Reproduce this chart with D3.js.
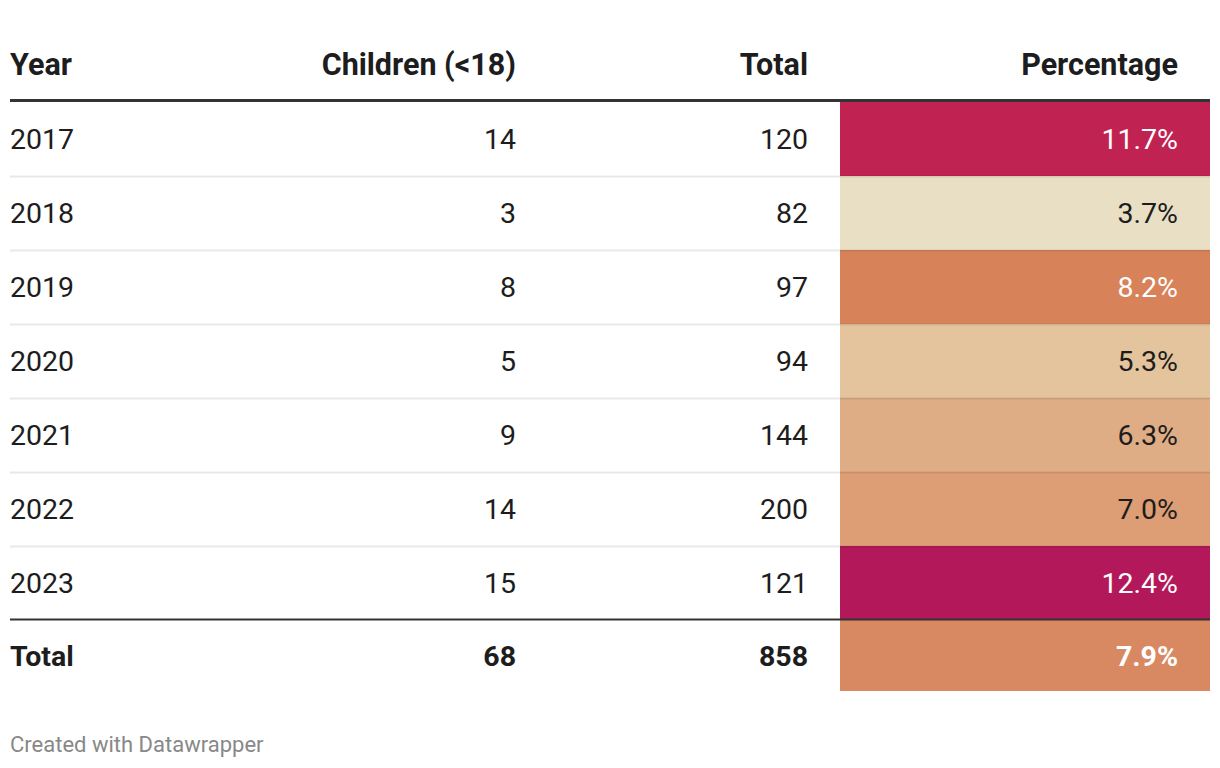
<!DOCTYPE html>
<html><head><meta charset="utf-8">
<script src="https://cdn.jsdelivr.net/npm/d3@7"></script>
<style>
html,body{margin:0;padding:0;background:#fff;}
svg{display:block;font-family:Roboto, "Noto Sans", sans-serif;}
</style></head>
<body><svg id="c" width="1220" height="768"></svg>
<script>
const headers = ["Year", "Children (<18)", "Total", "Percentage"];
const years = ["2017", "2018", "2019", "2020", "2021", "2022", "2023"];
const children = [14, 3, 8, 5, 9, 14, 15];
const totals = [120, 82, 97, 94, 144, 200, 121];
const percentages = [11.7, 3.7, 8.2, 5.3, 6.3, 7.0, 12.4];
const totalRow = ["Total", 68, 858, 7.9];
const footer = "Created with Datawrapper";

const svg = d3.select("#c");
const textCol = "#1d1d1d";
const rowH = 74;
const headerLineY = 100.5;
const firstRowTop = 102;

const color = d3.scaleLinear()
  .domain([3.7, 5.3, 8.2, 11.7, 12.4])
  .range(["#e8dfc4", "#e3c49c", "#d8825a", "#c02252", "#b3195a"]);

const rowY = d3.scaleBand().domain(d3.range(years.length + 1))
  .range([firstRowTop, firstRowTop + rowH * (years.length + 1)]).padding(0);

const colX = [10, 516, 808, 1178];
const anchors = ["start", "end", "end", "end"];
const cellX0 = 840, cellX1 = 1210;

// header
svg.selectAll("text.h").data(headers).join("text")
  .attr("x", (d,i)=>colX[i]).attr("y", 75)
  .attr("text-anchor", (d,i)=>anchors[i])
  .attr("font-size", 30.5).attr("font-weight", 700).attr("fill", textCol)
  .text(d=>d);

const rows = years.map((y,i)=>({cells:[y, children[i], totals[i], percentages[i]], bold:false}));
rows.push({cells:totalRow, bold:true});

svg.selectAll("rect.cell").data(rows).join("rect")
  .attr("x", cellX0).attr("width", cellX1-cellX0)
  .attr("y", (d,i)=>rowY(i)).attr("height", (d,i)=> i===rows.length-1 ? rowH-3 : rowY.bandwidth())
  .attr("fill", d=>color(d.cells[3]));

svg.selectAll("line.sep").data(d3.range(1, years.length)).join("line")
  .attr("x1", 10).attr("x2", cellX1)
  .attr("y1", i=>rowY(i)+0.5).attr("y2", i=>rowY(i)+0.5)
  .attr("stroke", "rgba(0,0,0,0.09)").attr("stroke-width", 2);

svg.append("line").attr("x1", 10).attr("x2", cellX1)
  .attr("y1", headerLineY).attr("y2", headerLineY)
  .attr("stroke", "#333").attr("stroke-width", 3);
svg.append("line").attr("x1", 10).attr("x2", cellX1)
  .attr("y1", rowY(years.length)-0.5).attr("y2", rowY(years.length)-0.5)
  .attr("stroke", "#333").attr("stroke-width", 2);

const fmt = (v,j)=> j===3 ? d3.format(".1f")(v)+"%" : v;
rows.forEach((r,i)=>{
  svg.selectAll(null).data(r.cells).join("text")
    .attr("x", (d,j)=>colX[j])
    .attr("y", rowY(i) + rowY.bandwidth()/2 + (i===rows.length-1 ? -1 : 0))
    .attr("dy", "0.36em")
    .attr("text-anchor", (d,j)=>anchors[j])
    .attr("font-size", 28.5)
    .attr("font-weight", r.bold ? 700 : 400)
    .attr("fill", (d,j)=> j===3 && d3.lab(color(d)).l < 66 ? "#fff" : textCol)
    .text((d,j)=>fmt(d,j));
});

svg.append("text").attr("x", 10).attr("y", 752)
  .attr("font-size", 22).attr("fill", "#888").text(footer);
</script></body></html>
